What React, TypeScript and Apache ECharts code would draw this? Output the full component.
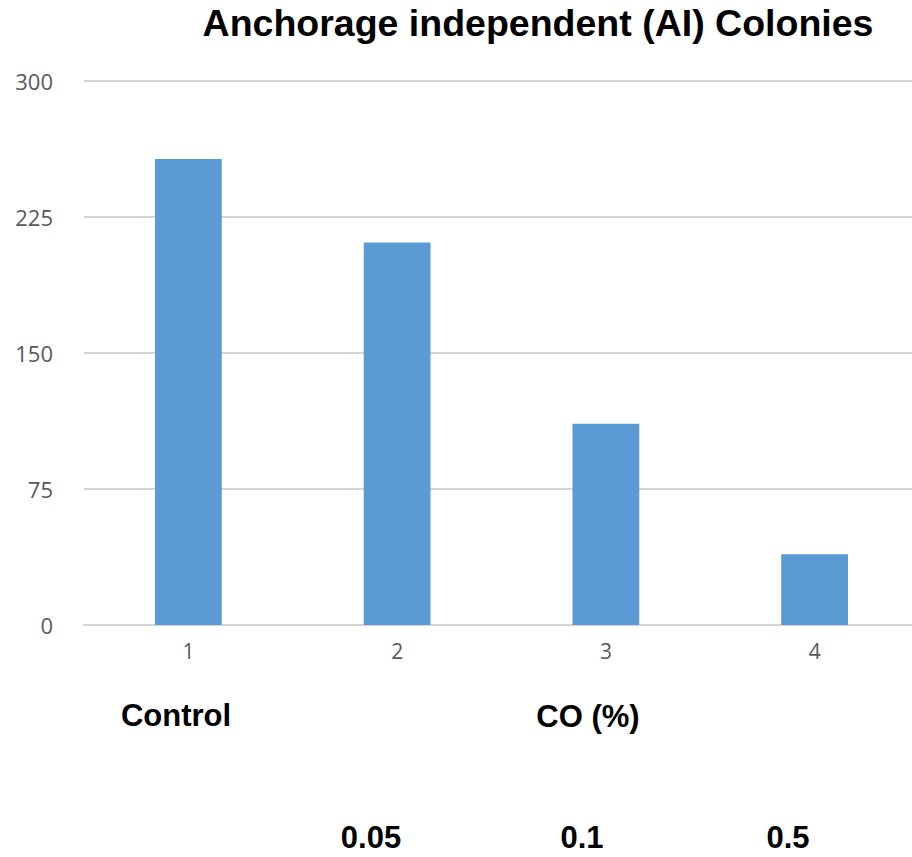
import React, { useEffect, useRef } from "react";
import * as echarts from "echarts";

const categories = ["1", "2", "3", "4"];
const colonies = [257, 211, 111, 39];
const yMin = 0;
const yMax = 300;
const yInterval = 75;
const title = "Anchorage independent (AI) Colonies";
const groupLabels = ["Control", "CO (%)"];
const concentrationLabels = ["0.05", "0.1", "0.5"];

export default function App() {
  const ref = useRef<HTMLDivElement>(null);
  useEffect(() => {
    if (!ref.current) return;
    const chart = echarts.init(ref.current, undefined, { renderer: "svg" });
    const bold = {
      fontFamily: "Liberation Sans, Arial, sans-serif",
      fontWeight: "bold" as const,
      fill: "#000000",
    };
    chart.setOption({
      animation: false,
      backgroundColor: "#ffffff",
      grid: { left: 84, right: 0, top: 81, bottom: 232, containLabel: false },
      xAxis: {
        type: "category",
        data: categories,
        axisLine: { show: true, lineStyle: { color: "#d4d4d4", width: 2 } },
        axisTick: { show: false },
        axisLabel: {
          color: "#595959",
          fontSize: 21,
          fontFamily: "Open Sans, sans-serif",
          margin: 15,
        },
      },
      yAxis: {
        type: "value",
        min: yMin,
        max: yMax,
        interval: yInterval,
        axisLine: { show: false },
        axisTick: { show: false },
        splitLine: { lineStyle: { color: "#d4d4d4", width: 2 } },
        axisLabel: {
          color: "#595959",
          fontSize: 22,
          fontFamily: "Open Sans, sans-serif",
          margin: 31,
          padding: [4, 0, 0, 0],
        },
      },
      series: [
        {
          type: "bar",
          data: colonies,
          barWidth: "32%",
          itemStyle: { color: "#5B9BD5" },
        },
      ],
      graphic: [
        {
          type: "text",
          x: 538,
          y: 23,
          style: { ...bold, text: title, fontSize: 37.5, textAlign: "center", textVerticalAlign: "middle" },
        },
        {
          type: "text",
          x: 176,
          y: 715,
          style: { ...bold, text: groupLabels[0], fontSize: 31, textAlign: "center", textVerticalAlign: "middle" },
        },
        {
          type: "text",
          x: 588,
          y: 716,
          style: { ...bold, text: groupLabels[1], fontSize: 31, textAlign: "center", textVerticalAlign: "middle" },
        },
        {
          type: "text",
          x: 371,
          y: 837,
          style: { ...bold, text: concentrationLabels[0], fontSize: 31, textAlign: "center", textVerticalAlign: "middle" },
        },
        {
          type: "text",
          x: 582,
          y: 837,
          style: { ...bold, text: concentrationLabels[1], fontSize: 31, textAlign: "center", textVerticalAlign: "middle" },
        },
        {
          type: "text",
          x: 788,
          y: 837,
          style: { ...bold, text: concentrationLabels[2], fontSize: 31, textAlign: "center", textVerticalAlign: "middle" },
        },
      ],
    });
    return () => chart.dispose();
  }, []);
  return (
    <div style={{ position: "absolute", left: 0, top: 0, width: 912, height: 857, overflow: "hidden", background: "#fff" }}>
      <div ref={ref} style={{ width: 919, height: 857 }} />
    </div>
  );
}
